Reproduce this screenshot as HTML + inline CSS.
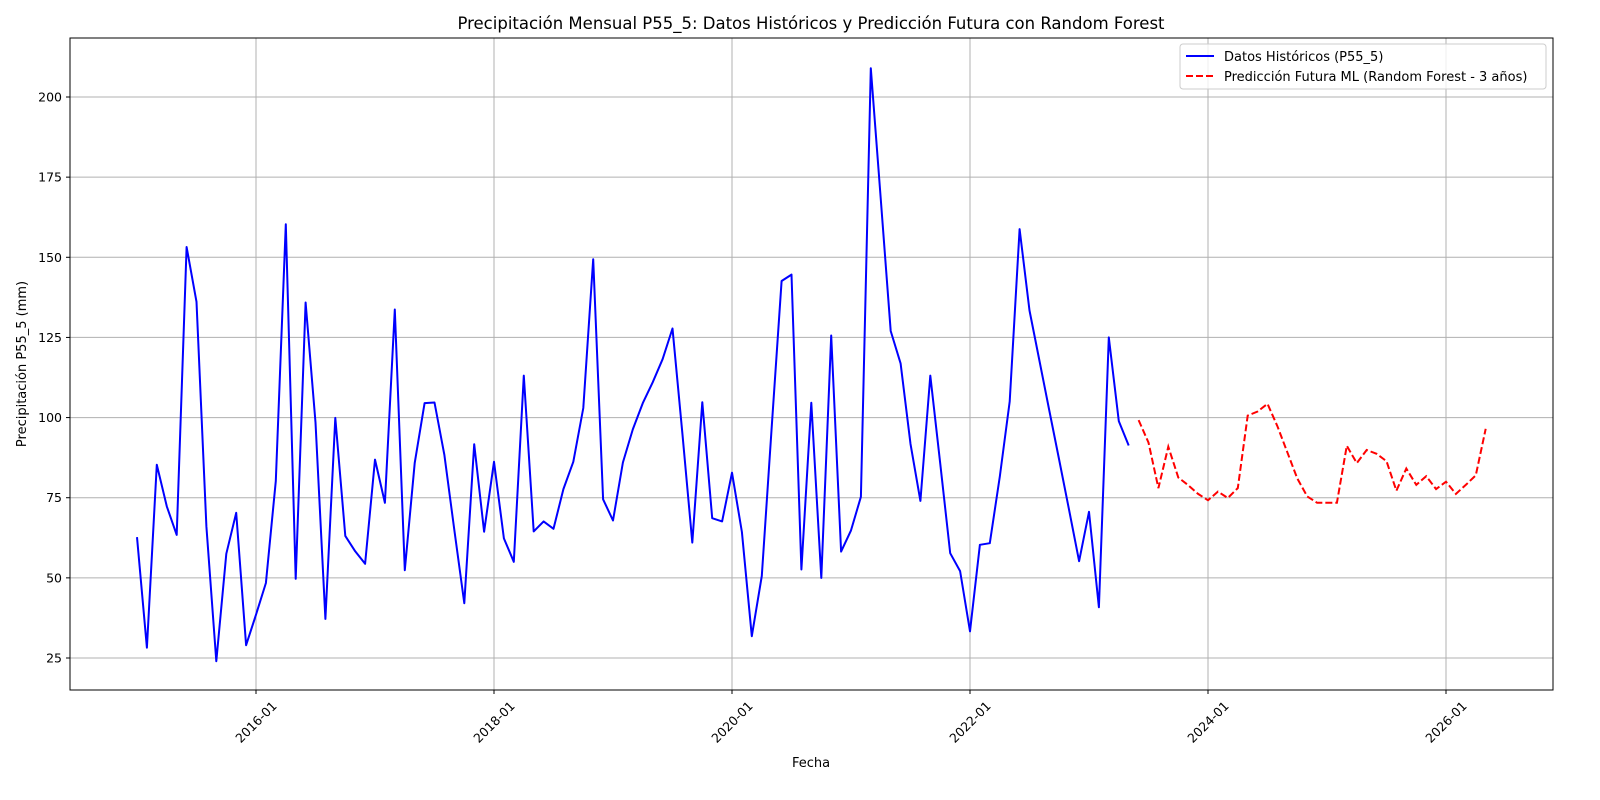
<!DOCTYPE html>
<html><head><meta charset="utf-8"><style>
html,body{margin:0;padding:0;background:#fff;overflow:hidden;width:1600px;height:800px}
svg{display:block}
svg text{font-family:"DejaVu Sans","Liberation Sans",sans-serif;fill:#000}
</style></head><body>
<svg id="chart" width="1600" height="800" xmlns="http://www.w3.org/2000/svg">
<rect width="1600" height="800" fill="#fff"/>
<text x="811" y="29" font-size="16.5" text-anchor="middle">Precipitación Mensual P55_5: Datos Históricos y Predicción Futura con Random Forest</text>
<g id="grid"></g>
<g id="axes"></g>
<g id="series"></g>
<rect x="70" y="38" width="1483" height="652" fill="none" stroke="#000" stroke-width="1"/>
<text x="811" y="767" font-size="13" text-anchor="middle">Fecha</text>
<text transform="translate(26,364) rotate(-90)" font-size="13" text-anchor="middle">Precipitación P55_5 (mm)</text>
<g>
<rect x="1180" y="44" width="366" height="45" rx="3" fill="#fff" fill-opacity="0.8" stroke="#ccc"/>
<line x1="1186" y1="56" x2="1214" y2="56" stroke="#00f" stroke-width="2"/>
<text x="1224" y="61" font-size="13">Datos Históricos (P55_5)</text>
<line x1="1186" y1="76" x2="1214" y2="76" stroke="#f00" stroke-width="2" stroke-dasharray="7,3"/>
<text x="1224" y="81" font-size="13">Predicción Futura ML (Random Forest - 3 años)</text>
</g>
</svg>
<script>
const histStart = 0; // month index 0 = 2015-01
const histValues = [62.7,28.2,85.3,72.3,63.4,153.2,136.1,66,24,57.5,70.3,29,38.5,48.4,80.2,160.3,49.7,135.9,98.5,37.2,99.9,63.1,58.3,54.4,86.9,73.4,133.7,52.4,85.8,104.5,104.7,88.3,65,42.1,91.7,64.4,86.2,62.3,55,113.1,64.5,67.6,65.3,77.7,86.2,103,149.4,74.5,67.9,86,96.3,104.5,111,118.2,127.8,95,61,104.8,68.6,67.6,82.8,64.3,31.8,50.6,97,142.6,144.6,52.6,104.6,50,125.6,58.2,64.8,75.3,209,168,127,116.9,91.8,74,113.1,85.5,57.7,52.1,33.3,60.3,60.8,81.6,105,158.8,133.4,117.8,102.2,86.6,71,55.2,70.6,40.8,125,98.9,91.3];
const predStart = 101; // 2023-06
const predValues = [99.2,92.2,78,90.9,81.3,78.9,76.2,74.2,76.9,74.9,78,100.6,101.9,104.3,97.3,89.2,81,75.4,73.4,73.4,73.4,91.2,85.8,89.9,88.7,86.4,77.2,84.1,79,81.7,77.7,80,76.2,79,82,96.5];
const xTickMonths = [12,36,60,84,108,132];
const xTickLabels = ["2016-01","2018-01","2020-01","2022-01","2024-01","2026-01"];
const yTicks = [25,50,75,100,125,150,175,200];

const NS="http://www.w3.org/2000/svg";
function X(m){return 137+m*9.9167;}
function Y(v){return 658-(v-25)*3.2057;}
function mk(tag,attrs,parent){const e=document.createElementNS(NS,tag);for(const k in attrs)e.setAttribute(k,attrs[k]);parent.appendChild(e);return e;}
const grid=document.getElementById('grid'),axes=document.getElementById('axes'),series=document.getElementById('series');
yTicks.forEach(v=>{
  const l=mk('line',{x1:70,x2:1553,y1:Y(v),y2:Y(v),stroke:'#b0b0b0','stroke-width':1},grid);
  
  
  mk('line',{x1:66,x2:70,y1:Y(v),y2:Y(v),stroke:'#000'},axes);
  const t=mk('text',{x:62,y:Y(v)+4.5,'font-size':12.5,'text-anchor':'end'},axes);
  t.textContent=v;
  
  
});
xTickMonths.forEach((m,i)=>{
  const x=X(m);
  const l=mk('line',{x1:x,x2:x,y1:38,y2:690,stroke:'#b0b0b0','stroke-width':1},grid);
  
  
  mk('line',{x1:x,x2:x,y1:690,y2:694,stroke:'#000'},axes);
  const t=mk('text',{transform:`translate(${x},${722}) rotate(-45)`,'font-size':12.5,'text-anchor':'middle','dominant-baseline':'central'},axes);
  t.textContent=xTickLabels[i];
  
  
});
const hp=histValues.map((v,i)=>X(histStart+i).toFixed(1)+','+Y(v).toFixed(1)).join(' ');
const h=mk('polyline',{points:hp,fill:'none',stroke:'#00f','stroke-width':2,'stroke-linejoin':'round'},series);


const pp=predValues.map((v,i)=>X(predStart+i).toFixed(1)+','+Y(v).toFixed(1)).join(' ');
const p=mk('polyline',{points:pp,fill:'none',stroke:'#f00','stroke-width':2,'stroke-dasharray':'7,3'},series);


</script>
</body></html>
